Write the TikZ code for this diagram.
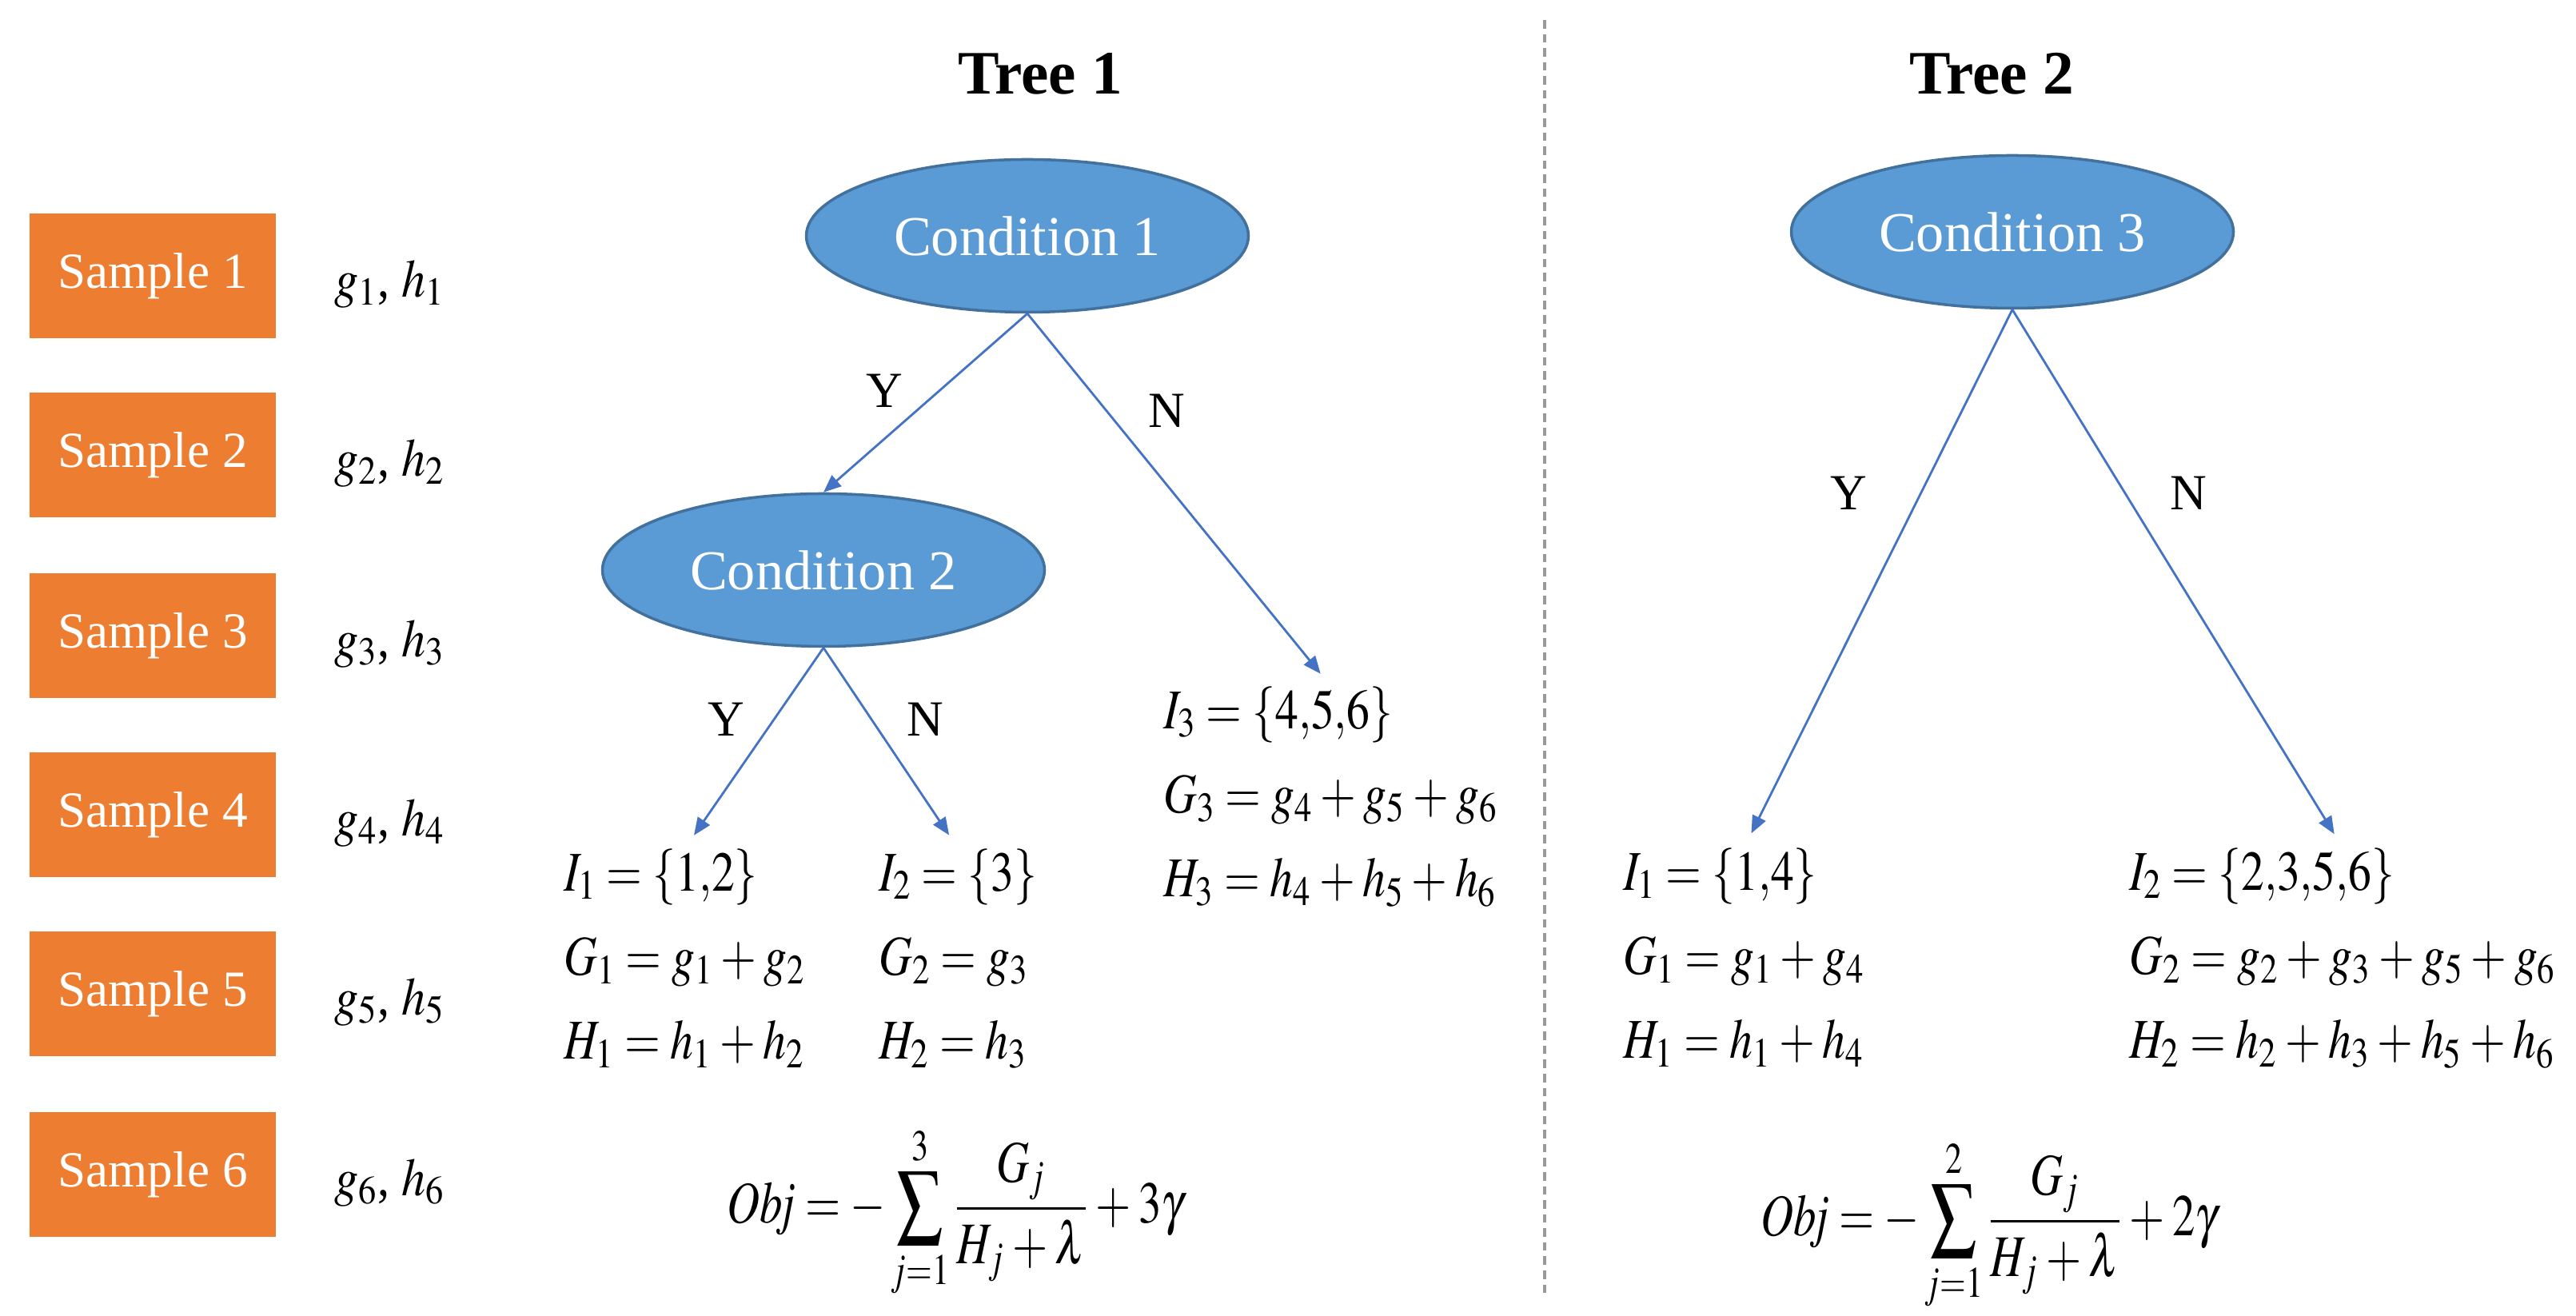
\documentclass[tikz,border=0pt]{standalone}
\usepackage{mathptmx}
\usepackage[no-math]{fontspec}
\setmainfont{Liberation Serif}
\usepackage{tikz}
\usetikzlibrary{arrows.meta,positioning,shapes.geometric}

\definecolor{sampleorange}{HTML}{ED7D31}
\definecolor{condblue}{HTML}{5B9BD5}
\definecolor{condedge}{HTML}{41719C}
\definecolor{branchblue}{HTML}{4472C4}

\thickmuskip=4mu plus 2mu
\medmuskip=3mu plus 2mu minus 3mu

\begin{document}
\begin{tikzpicture}[
  x=1cm, y=1cm,
  sample/.style={
    rectangle,
    fill=sampleorange,
    text=white,
    minimum width=3.08cm,
    minimum height=1.56cm,
    font=\fontsize{18}{22}\selectfont
  },
  grad/.style={font=\fontsize{19}{23}\selectfont, inner sep=0pt, xscale=0.9, transform shape, yshift=-0.1cm},
  cond/.style={
    ellipse,
    draw=condedge,
    line width=1pt,
    fill=condblue,
    text=white,
    minimum width=5.53cm,
    minimum height=1.91cm,
    font=\fontsize{20}{24}\selectfont
  },
  treetitle/.style={font=\fontsize{22}{26}\selectfont\bfseries},
  leaf/.style={anchor=base west, align=left, inner sep=0pt, xscale=0.82, transform shape, font=\fontsize{20}{30}\selectfont},
  yn/.style={font=\fontsize{18}{22}\selectfont},
  branch/.style={-{Triangle[length=0.22cm, width=0.18cm]}, draw=branchblue, line width=0.8pt},
  toleaf/.style={branch, shorten >=0.2cm},
  divider/.style={draw=gray!80, line width=0.9pt, dash pattern=on 3pt off 2pt},
  objfun/.style={font=\fontsize{21}{25}\selectfont, xscale=0.77, transform shape}
]

\useasboundingbox (0,0) rectangle (32.22,16.46);

% samples with their gradients
\node[sample] (s1) at (1.91,13.01) {Sample 1};
\node[sample] (s2) at (1.91,10.77) {Sample 2};
\node[sample] (s3) at (1.91,8.51) {Sample 3};
\node[sample] (s4) at (1.91,6.27) {Sample 4};
\node[sample] (s5) at (1.91,4.03) {Sample 5};
\node[sample] (s6) at (1.91,1.77) {Sample 6};

\node[grad, right=0.72cm of s1] (gh1) {$g_1$, $h_1$};
\node[grad, right=0.72cm of s2] (gh2) {$g_2$, $h_2$};
\node[grad, right=0.72cm of s3] (gh3) {$g_3$, $h_3$};
\node[grad, right=0.72cm of s4] (gh4) {$g_4$, $h_4$};
\node[grad, right=0.72cm of s5] (gh5) {$g_5$, $h_5$};
\node[grad, right=0.72cm of s6] (gh6) {$g_6$, $h_6$};

% separator
\coordinate (sep top) at (19.32,16.21);
\coordinate (sep bot) at (19.32,0.23);
\draw[divider] (sep top) -- (sep bot);

% tree 1
\node[treetitle] (t1) at (13.01,15.54) {Tree 1};
\node[cond] (c1) at (12.85,13.51) {Condition 1};
\node[cond] (c2) at (10.30,9.33) {Condition 2};

\node[leaf] (l11) at (7.05,3.21) {$I_1 = \{1{,}2\}$\\ $G_1 = g_1 + g_2$\\ $H_1 = h_1 + h_2$};
\node[leaf] (l12) at (10.99,3.21) {$I_2 = \{3\}$\\ $G_2 = g_3$\\ $H_2 = h_3$};
\node[leaf] (l13) at (14.55,5.24) {$I_3 = \{4{,}5{,}6\}$\\ $G_3 = g_4 + g_5 + g_6$\\ $H_3 = h_4 + h_5 + h_6$};

\draw[branch] (c1.south) -- (c2.north);
\draw[toleaf] (c1.south) -- (l13.north);
\draw[toleaf] (c2.south) -- (l11.north);
\draw[toleaf] (c2.south) -- (l12.north);

\node[yn] (y1) at (11.06,11.57) {Y};
\node[yn] (n1) at (14.59,11.32) {N};
\node[yn] (y2) at (9.08,7.46) {Y};
\node[yn] (n2) at (11.57,7.46) {N};

\node[objfun] (obj1) at (11.95,1.30) {$\displaystyle \mathit{Obj} = -\sum_{j=1}^{3}\frac{G_j}{H_j+\lambda}+3\gamma$};

% tree 2
\node[treetitle] (t2) at (24.91,15.54) {Tree 2};
\node[cond] (c3) at (25.17,13.56) {Condition 3};

\node[leaf] (l21) at (20.30,3.22) {$I_1 = \{1{,}4\}$\\ $G_1 = g_1 + g_4$\\ $H_1 = h_1 + h_4$};
\node[leaf] (l22) at (26.63,3.22) {$I_2 = \{2{,}3{,}5{,}6\}$\\ $G_2 = g_2 + g_3 + g_5 + g_6$\\ $H_2 = h_2 + h_3 + h_5 + h_6$};

\draw[toleaf] (c3.south) -- (l21.north);
\draw[toleaf] (c3.south) -- (l22.north);

\node[yn] (y3) at (23.12,10.29) {Y};
\node[yn] (n3) at (27.37,10.29) {N};

\node[objfun] (obj2) at (24.88,1.14) {$\displaystyle \mathit{Obj} = -\sum_{j=1}^{2}\frac{G_j}{H_j+\lambda}+2\gamma$};

\end{tikzpicture}
\end{document}
